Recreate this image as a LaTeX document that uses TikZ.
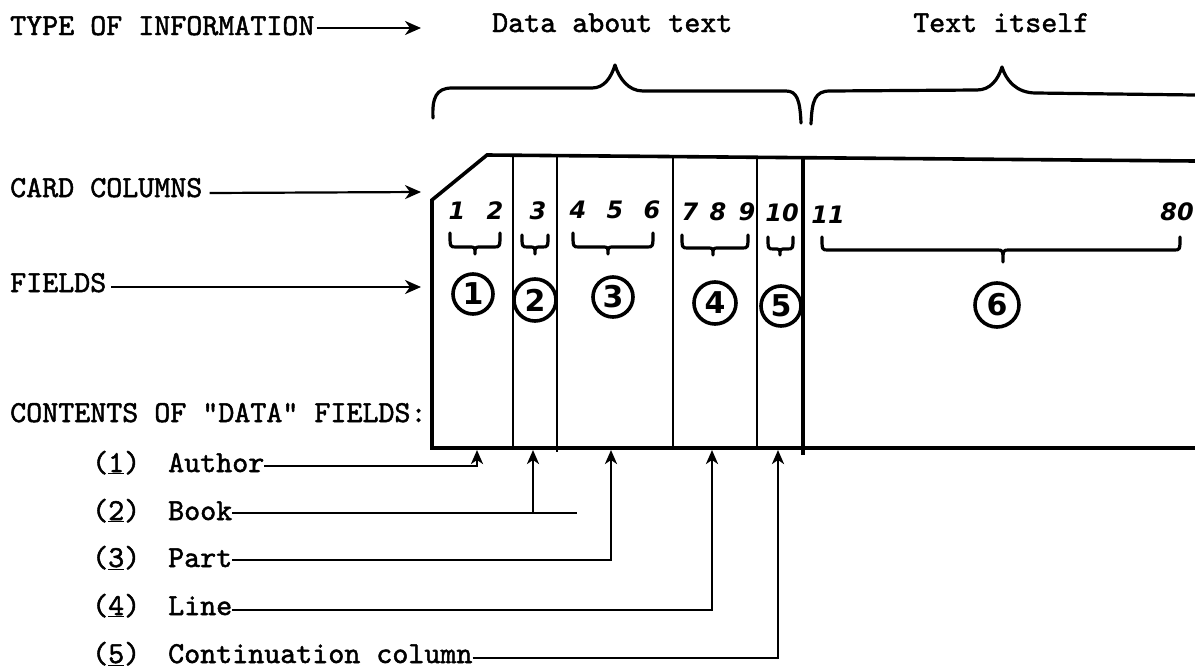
\documentclass[tikz,border=0pt]{standalone}
\usepackage{fontspec}
\newfontfamily\hand{DejaVu Sans}
\newfontfamily\tw[FakeBold=1.6]{lmmono10-regular.otf}
\usetikzlibrary{arrows.meta,calc}
\tikzset{
  lbl/.style={anchor=base west, inner sep=0pt, font=\tw\fontsize{30.5}{36}\selectfont},
  larrow/.style={line width=2.2pt, -{Stealth[length=16pt,width=14pt,inset=5pt]}},
  uparrow/.style={line width=2.4pt, -{Stealth[length=14pt,width=12pt,inset=4pt]}},
  conn/.style={line width=2.2pt},
  brc/.style={line width=3.2pt, line cap=round, line join=round},
  cardline/.style={line width=3.6pt, line join=miter},
  divthin/.style={line width=1.8pt},
  divthick/.style={line width=3.6pt},
  colnum/.style={inner sep=0pt, font=\hand\fontsize{24}{26}\selectfont\bfseries\itshape},
  fieldcirc/.style={circle, draw, line width=3.6pt, minimum size=40pt, inner sep=0pt,
     font=\hand\fontsize{30}{32}\selectfont\bfseries},
}
\newcommand{\smallbrace}[6]{%
  \draw[brc] (#1,#4) .. controls (#1,#5) and (#1,#5) .. ($(#1,#5)+(6,0)$)
    -- ($(#3,#5)+(-6,0)$) .. controls (#3,#5) and (#3,#5) .. ($(#3,#5)+(0,#6)$)
    .. controls (#3,#5) and (#3,#5) .. ($(#3,#5)+(6,0)$)
    -- ($(#2,#5)+(-6,0)$) .. controls (#2,#5) and (#2,#5) .. (#2,#4);}
\begin{document}
\begin{tikzpicture}[x=1pt,y=-1pt]
\useasboundingbox (0,0) rectangle (1195,670);

% --- headings
\node[lbl] (type) at (10,35) {TYPE OF INFORMATION};
\coordinate (typetip) at (421,28);
\draw[larrow] ([xshift=2pt,yshift=7pt]type.base east) -- (typetip);
\node[lbl] (data) at (492,32) {Data about text};
\node[lbl] (itself) at (913,32) {Text itself};

% --- big braces
\draw[brc] (433,118) .. controls (432,98) and (436,88) .. (452,88)
  -- (592,88) .. controls (604,88) and (611,78) .. (615,65)
  .. controls (619,78) and (628,91) .. (643,91)
  -- (786,91) .. controls (797,91) and (800,100) .. (801,123);
\draw[brc] (811,124) .. controls (812,100) and (815,91) .. (830,91)
  -- (977,90) .. controls (990,90) and (998,80) .. (1002,67)
  .. controls (1006,80) and (1016,93) .. (1036,93)
  -- (1195,95);

% --- card
\draw[cardline] (1195,448) -- (432,448) -- (432,200) -- (487,155) -- (1195,161);
\draw[divthin] (513,155.3) -- (513,449);
\draw[divthin] (557,155.7) -- (557,452);
\draw[divthin] (673,156.7) -- (673,450);
\draw[divthin] (757,157.4) -- (757,450);
\draw[divthick] (803,157.8) -- (803,455);

% --- column numbers
\foreach \n/\x/\y in {1/457/211,2/495/211,3/538/211,4/578/210,5/615/210,6/652/210,
                     7/690/212,8/718/212,9/747/212,10/782/213,11/828/215,80/1177/212}
  \node[colnum] (c\n) at (\x,\y) {\n};

% --- small braces
\smallbrace{450}{500}{475}{233}{247}{7}
\smallbrace{522}{548}{535}{235}{247}{7}
\smallbrace{573}{653}{608}{233}{247}{7}
\smallbrace{682}{748}{713}{235}{248}{7}
\smallbrace{768}{793}{780}{237}{249}{6}
\smallbrace{822}{1180}{1003}{237}{250}{12}

% --- field circles
\node[fieldcirc] (f1) at (473,294) {1};
\node[fieldcirc, minimum size=42pt] (f2) at (535,300) {2};
\node[fieldcirc] (f3) at (613,297) {3};
\node[fieldcirc, minimum size=42pt] (f4) at (715,303) {4};
\node[fieldcirc] (f5) at (781,306) {5};
\node[fieldcirc, minimum size=44pt] (f6) at (997,305) {6};

% --- left labels
\node[lbl] (cc) at (10,197) {CARD COLUMNS};
\coordinate (cctip) at (421,192);
\draw[larrow] ([xshift=7pt,yshift=4pt]cc.base east) -- (cctip);
\node[lbl] (fields) at (10,292) {FIELDS};
\coordinate (fieldstip) at (421,287);
\draw[larrow] ([xshift=5pt,yshift=5pt]fields.base east) -- (fieldstip);
\node[lbl] (contents) at (10,422) {CONTENTS OF "DATA" FIELDS:};

% --- contents list
\node[lbl] (n1) at (92,472) {(\underline{1})};
\node[lbl] (author) at (168,472) {Author};
\node[lbl] (n2) at (92,520) {(\underline{2})};
\node[lbl] (book) at (168,520) {Book};
\node[lbl] (n3) at (92,567) {(\underline{3})};
\node[lbl] (part) at (168,567) {Part};
\node[lbl] (n4) at (92,615) {(\underline{4})};
\node[lbl] (line) at (168,615) {Line};
\node[lbl] (n5) at (92,663) {(\underline{5})};
\node[lbl] (cont) at (168,663) {Continuation column};

\coordinate (t1) at (477,450);
\coordinate (t2) at (533,450);
\coordinate (t3) at (611,450);
\coordinate (t4) at (712,450);
\coordinate (t5) at (778,450);
\coordinate (bookend) at (577,513);
\coordinate (bookjoin) at (533,513);

\draw[conn] ([yshift=6pt]author.base east) -| (476,466);
\draw[uparrow] (477,467) -- (t1);
\draw[conn] ([yshift=7pt]book.base east) -- (bookend);
\draw[uparrow] (bookjoin) -- (t2);
\draw[conn] ([yshift=7pt]part.base east) -| (611,558);
\draw[uparrow] (611,561) -- (t3);
\draw[conn] ([yshift=5pt]line.base east) -| (712,608);
\draw[uparrow] (712,611) -- (t4);
\draw[conn] ([yshift=5pt]cont.base east) -| (778,656);
\draw[uparrow] (778,659) -- (t5);
\end{tikzpicture}
\end{document}
